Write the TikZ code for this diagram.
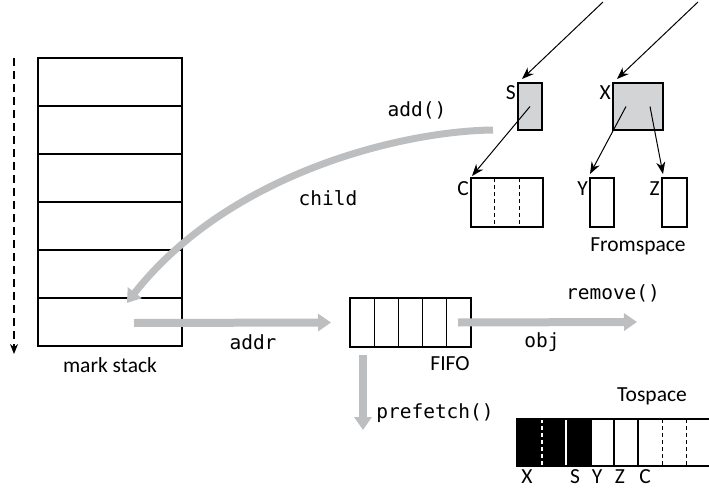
\documentclass[tikz,border=0pt]{standalone}
\usepackage{fontspec}
\setmainfont{Carlito}
\newfontfamily\codefont{DejaVu Sans Mono}
\usetikzlibrary{arrows.meta,calc,bending}
\definecolor{flowgray}{RGB}{189,190,192}
\definecolor{objgray}{RGB}{211,212,214}

\begin{document}
\begin{tikzpicture}[x=1pt,y=-1pt,
  cell/.style={draw, line width=1.5pt, inner sep=0pt, outer sep=0pt},
  txt/.style={font=\fontsize{21.5}{23}\selectfont, inner sep=0pt},
  code/.style={font=\codefont\fontsize{19.5}{21}\selectfont, inner sep=0pt},
  ptr/.style={line width=1pt, -{Stealth[length=12pt,width=9pt]}},
  flow/.style={draw=flowgray, line width=8pt, -{Triangle[length=13pt,width=17pt]}, flowgray},
]
\useasboundingbox (0,0) rectangle (709,487);

% mark stack
\node[cell, minimum width=144pt, minimum height=288pt] (stack) at (110,202) {};
\foreach \k in {1,...,5}
  \draw[line width=1.1pt] ($(stack.north west)+(0,48*\k)$) -- ($(stack.north east)+(0,48*\k)$);
\node[txt] (stacklbl) at (110,365) {mark stack};
\coordinate (growtop) at (14,58);
\coordinate (growbot) at (14,354);
\draw[line width=1.2pt, dash pattern=on 8pt off 5pt, -{Stealth[length=10pt,width=8pt]}] (growtop) -- (growbot);

% FIFO queue
\node[cell, minimum width=121pt, minimum height=49pt] (fifo) at (410.5,322.5) {};
\foreach \k in {1,...,4}
  \draw[line width=1.1pt] ($(fifo.north west)+(24.2*\k,0)$) -- ($(fifo.south west)+(24.2*\k,0)$);
\node[txt] (fifolbl) at (450,364) {FIFO};

% Fromspace objects
\node[cell, fill=objgray, minimum width=24pt, minimum height=47pt] (S) at (530,106.5) {};
\node[cell, fill=objgray, minimum width=50pt, minimum height=47pt] (X) at (638,106.5) {};
\node[cell, minimum width=72pt, minimum height=49pt] (C) at (507,202.5) {};
\node[cell, minimum width=24pt, minimum height=49pt] (Y) at (602,202.5) {};
\node[cell, minimum width=25pt, minimum height=49pt] (Z) at (674.5,202.5) {};
\foreach \xx in {23,48}
  \draw[line width=1pt, dash pattern=on 4pt off 3pt] ($(C.north west)+(\xx,0)$) -- ($(C.south west)+(\xx,0)$);

\node[txt, anchor=east] (Slbl) at ($(S.north west)+(-2,10)$) {S};
\node[txt, anchor=east] (Xlbl) at ($(X.north west)+(-2,10)$) {X};
\node[txt, anchor=east] (Clbl) at ($(C.north west)+(-2,11)$) {C};
\node[txt, anchor=east] (Ylbl) at ($(Y.north west)+(-2,11)$) {Y};
\node[txt, anchor=east] (Zlbl) at ($(Z.north west)+(-2,11)$) {Z};
\node[txt] (fromlbl) at (638,246) {Fromspace};

% root pointers and object references
\coordinate (rootS) at (603,2);
\coordinate (rootX) at (698,2);
\draw[ptr] (rootS) -- ($(S.north west)+(4,-4)$);
\draw[ptr] (rootX) -- ($(X.north west)+(4,-4)$);
\draw[ptr] ($(S.center)+(0,0)$) -- ($(C.north west)+(1,-2)$);
\draw[ptr] ($(X.center)+(-12,0)$) -- ($(Y.north west)+(0,-4)$);
\draw[ptr] ($(X.center)+(12,0)$) -- ($(Z.north west)+(1,-4)$);

% Tospace
\node[minimum width=192pt, minimum height=47pt, inner sep=0pt, outer sep=0pt] (to) at (613,442.5) {};
\fill[black] (to.north west) rectangle ($(to.south west)+(74,0)$);
\draw[white, line width=1.3pt] ($(to.north west)+(49,0)$) -- ($(to.south west)+(49,0)$);
\draw[white, line width=1.1pt, dash pattern=on 4pt off 3pt] ($(to.north west)+(25,0)$) -- ($(to.south west)+(25,0)$);
\draw[line width=1.5pt] (to.north east) -- (to.north west) -- (to.south west) -- (to.south east);
\foreach \xx in {74,97,121}
  \draw[line width=1.5pt] ($(to.north west)+(\xx,0)$) -- ($(to.south west)+(\xx,0)$);
\foreach \xx in {145,169}
  \draw[line width=1pt, dash pattern=on 4pt off 3pt] ($(to.north west)+(\xx,0)$) -- ($(to.south west)+(\xx,0)$);
\node[txt] (tolbl) at (652,396) {Tospace};
\node[txt, anchor=base] (tX) at (527,483) {X};
\node[txt, anchor=base] (tS) at (575,483) {S};
\node[txt, anchor=base] (tY) at (597,483) {Y};
\node[txt, anchor=base] (tZ) at (620,483) {Z};
\node[txt, anchor=base] (tC) at (645,483) {C};

% data flow
\coordinate (addrstart) at (134,323);
\coordinate (objend) at (637,322);
\coordinate (prefend) at (363,430);
\coordinate (childstart) at (493,130);
\coordinate (childend) at (127,303);
\draw[flow] (addrstart) -- (fifo.west -| 331,0);
\draw[flow] ($(fifo.east)+(-13,0)$) -- (objend);
\draw[flow] ($(fifo.south -| prefend)+(0,8)$) -- (prefend);
\draw[draw=flowgray, line width=7pt, -{Triangle[length=13pt,width=17pt,bend]}, flowgray]
  (childstart) .. controls (400,131) and (220,175) .. (childend);

\node[code] (addlbl) at (417,110) {add()};
\node[code] (childlbl) at (328,198) {child};
\node[code] (addrlbl) at (253,342) {addr};
\node[code] (objlbl) at (542,342) {obj};
\node[code] (remlbl) at (613,293) {remove()};
\node[code] (preflbl) at (435,413) {prefetch()};
\end{tikzpicture}
\end{document}
